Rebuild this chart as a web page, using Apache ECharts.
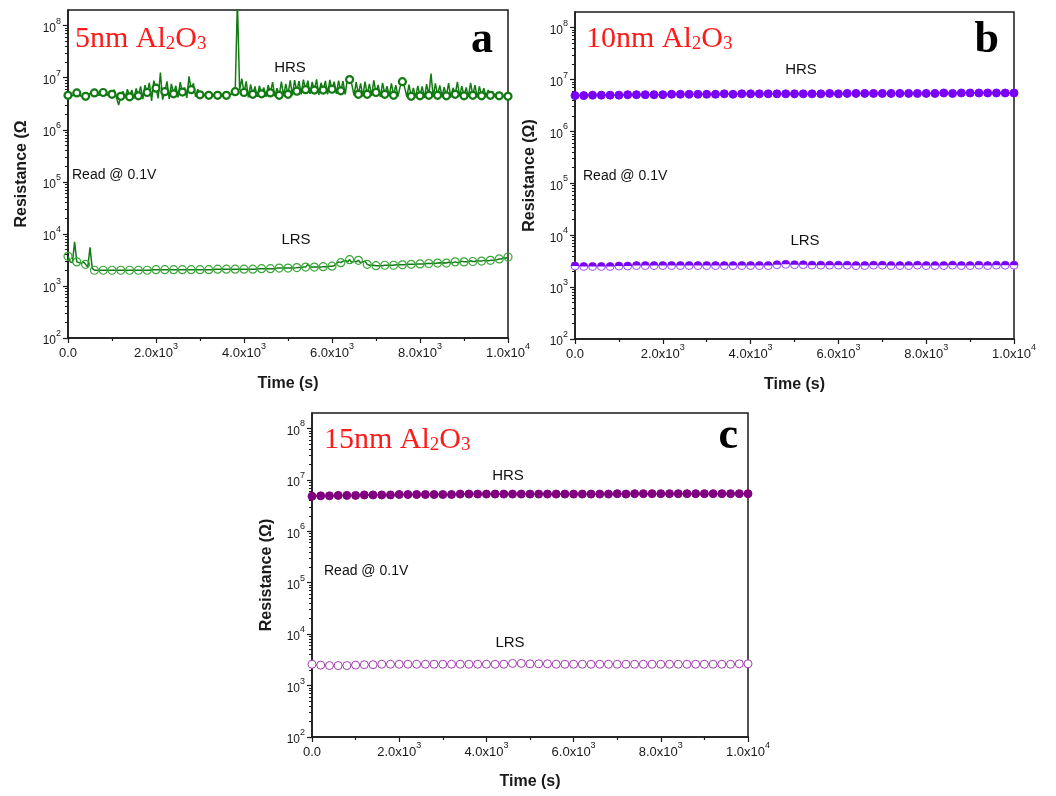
<!DOCTYPE html>
<html><head><meta charset="utf-8">
<script src="https://cdn.jsdelivr.net/npm/echarts@6/dist/echarts.min.js"></script>
<style>html,body{margin:0;padding:0;background:#fff}#c{width:1056px;height:796px}</style>
</head><body><div id="c"></div>
<script>
// ---------- data (Ω) ----------
const stepA = 50;   // s between samples, panel a
const hrsA = [
4.6e6,4.8e6,4.5e6,4.9e6,5.1e6,4.7e6,4.4e6,4.6e6,4.4e6,4.8e6,
5.0e6,4.9e6,5.1e6,4.8e6,4.6e6,4.9e6,5.2e6,4.9e6,4.6e6,5.6e6,
4.8e6,5.9e6,4.2e6,3.0e6,4.4e6,5.5e6,4.2e6,6.0e6,4.3e6,5.8e6,
4.0e6,6.2e6,4.5e6,6.8e6,3.9e6,7.2e6,5.2e6,8.0e6,3.6e6,8.8e6,
6.3e6,4.0e6,12.6e6,3.8e6,5.4e6,8.5e6,3.9e6,7.6e6,4.9e6,7.0e6,
4.2e6,8.2e6,5.3e6,6.5e6,4.1e6,10.6e6,5.9e6,7.8e6,4.3e6,6.0e6,
4.7e6,4.8e6,4.6e6,4.7e6,4.6e6,4.8e6,4.5e6,4.7e6,4.6e6,4.7e6,
4.8e6,4.6e6,4.6e6,5.0e6,4.7e6,5.3e6,5.4e6,3.0e8,5.8e6,9.6e6,
5.2e6,8.5e6,4.2e6,7.4e6,4.8e6,6.8e6,4.3e6,7.0e6,4.9e6,6.5e6,
4.3e6,7.2e6,5.1e6,8.2e6,4.4e6,6.3e6,4.6e6,8.4e6,4.5e6,7.6e6,
4.8e6,8.9e6,4.6e6,9.0e6,5.5e6,8.6e6,4.8e6,9.2e6,5.9e6,8.8e6,
4.9e6,8.3e6,5.8e6,9.3e6,4.7e6,8.0e6,5.8e6,8.7e6,4.8e6,9.1e6,
6.0e6,8.4e6,4.9e6,8.8e6,5.6e6,8.6e6,4.8e6,9.5e6,9.2e6,7.5e6,
4.6e6,8.2e6,4.8e6,7.8e6,4.4e6,8.4e6,4.8e6,7.6e6,4.5e6,8.9e6,
5.2e6,7.3e6,4.3e6,8.0e6,4.8e6,6.9e6,4.5e6,7.8e6,4.6e6,7.2e6,
4.4e6,6.8e6,8.4e6,6.6e6,4.3e6,7.4e6,4.4e6,6.4e6,4.2e6,7.0e6,
4.5e6,6.8e6,4.1e6,7.5e6,4.6e6,12.0e6,4.3e6,7.8e6,4.6e6,7.1e6,
4.4e6,6.6e6,4.5e6,7.9e6,4.2e6,6.4e6,4.8e6,8.3e6,4.4e6,6.9e6,
4.5e6,6.5e6,4.3e6,8.0e6,4.6e6,7.2e6,4.2e6,6.8e6,4.5e6,6.3e6,
4.4e6,5.8e6,4.6e6,5.4e6,4.4e6,5.0e6,4.5e6,4.7e6,4.4e6,4.5e6,
4.4e6];
const lrsA = [
3.7e3,2.9e3,2.8e3,7.0e3,2.9e3,2.8e3,2.7e3,2.9e3,2.6e3,2.3e3,
5.5e3,2.2e3,2.0e3,2.0e3,2.0e3,2.0e3,2.0e3,2.0e3,2.0e3,2.0e3,
2.0e3,2.0e3,2.0e3,2.0e3,2.0e3,2.0e3,2.0e3,2.0e3,2.0e3,2.0e3,
2.0e3,2.0e3,2.0e3,2.0e3,2.0e3,2.0e3,2.0e3,2.0e3,2.05e3,2.05e3,
2.05e3,2.05e3,2.05e3,2.05e3,2.05e3,2.05e3,2.05e3,2.05e3,2.05e3,2.05e3,
2.05e3,2.05e3,2.05e3,2.05e3,2.05e3,2.05e3,2.05e3,2.05e3,2.05e3,2.05e3,
2.05e3,2.05e3,2.05e3,2.05e3,2.05e3,2.05e3,2.05e3,2.1e3,2.1e3,2.1e3,
2.1e3,2.1e3,2.1e3,2.1e3,2.1e3,2.1e3,2.1e3,2.1e3,2.1e3,2.1e3,
2.1e3,2.1e3,2.1e3,2.1e3,2.1e3,2.1e3,2.15e3,2.15e3,2.15e3,2.15e3,
2.15e3,2.15e3,2.15e3,2.15e3,2.15e3,2.2e3,2.2e3,2.2e3,2.2e3,2.2e3,
2.2e3,2.2e3,2.2e3,2.2e3,2.25e3,2.25e3,2.25e3,2.3e3,2.3e3,2.6e3,
2.35e3,2.3e3,2.3e3,2.3e3,2.3e3,2.3e3,2.35e3,2.35e3,2.35e3,2.4e3,
2.4e3,2.45e3,2.7e3,2.9e3,2.8e3,3.0e3,3.1e3,2.9e3,3.2e3,2.8e3,
3.0e3,2.9e3,3.1e3,2.8e3,2.9e3,3.0e3,2.6e3,2.5e3,2.5e3,2.5e3,
2.45e3,2.45e3,2.45e3,2.45e3,2.5e3,2.5e3,2.5e3,2.5e3,2.5e3,2.55e3,
2.55e3,2.55e3,2.55e3,2.55e3,2.6e3,2.6e3,2.6e3,2.6e3,2.6e3,2.65e3,
2.65e3,2.65e3,2.65e3,2.7e3,2.7e3,2.7e3,2.75e3,2.7e3,2.75e3,2.8e3,
2.75e3,2.8e3,2.75e3,2.85e3,2.8e3,2.8e3,2.9e3,2.8e3,2.85e3,3.0e3,
2.9e3,2.9e3,2.9e3,3.05e3,2.95e3,2.95e3,3.1e3,3.0e3,3.0e3,3.1e3,
3.05e3,3.05e3,3.1e3,3.1e3,3.15e3,3.2e3,3.3e3,3.3e3,3.5e3,3.4e3,
3.6e3];

const stepBC = 200; // s between samples, panels b and c
const hrsB = [
4.9e6,4.9e6,5.0e6,5.0e6,5.0e6,5.0e6,5.1e6,5.1e6,5.1e6,5.1e6,
5.1e6,5.2e6,5.2e6,5.2e6,5.2e6,5.2e6,5.2e6,5.3e6,5.2e6,5.3e6,
5.3e6,5.3e6,5.3e6,5.3e6,5.3e6,5.3e6,5.3e6,5.3e6,5.3e6,5.4e6,
5.3e6,5.4e6,5.4e6,5.4e6,5.4e6,5.4e6,5.4e6,5.4e6,5.4e6,5.4e6,
5.4e6,5.4e6,5.5e6,5.4e6,5.5e6,5.5e6,5.5e6,5.5e6,5.5e6,5.5e6,
5.5e6];
const lrsB = [
2.55e3,2.5e3,2.5e3,2.5e3,2.5e3,2.55e3,2.55e3,2.6e3,2.6e3,2.6e3,
2.6e3,2.6e3,2.6e3,2.6e3,2.6e3,2.6e3,2.6e3,2.6e3,2.6e3,2.6e3,
2.6e3,2.6e3,2.6e3,2.7e3,2.75e3,2.7e3,2.7e3,2.65e3,2.65e3,2.65e3,
2.65e3,2.65e3,2.6e3,2.6e3,2.65e3,2.65e3,2.6e3,2.6e3,2.6e3,2.65e3,
2.6e3,2.6e3,2.6e3,2.65e3,2.6e3,2.6e3,2.65e3,2.6e3,2.65e3,2.65e3,
2.65e3];
const hrsC = [
4.8e6,4.9e6,4.9e6,5.0e6,5.0e6,5.0e6,5.1e6,5.1e6,5.1e6,5.1e6,
5.2e6,5.2e6,5.2e6,5.2e6,5.2e6,5.2e6,5.2e6,5.3e6,5.3e6,5.3e6,
5.3e6,5.3e6,5.3e6,5.3e6,5.3e6,5.3e6,5.3e6,5.3e6,5.3e6,5.3e6,
5.3e6,5.3e6,5.3e6,5.3e6,5.3e6,5.4e6,5.3e6,5.4e6,5.4e6,5.4e6,
5.4e6,5.4e6,5.4e6,5.4e6,5.4e6,5.4e6,5.4e6,5.4e6,5.4e6,5.4e6,
5.4e6];
const lrsC = [
2.6e3,2.5e3,2.45e3,2.45e3,2.45e3,2.5e3,2.55e3,2.55e3,2.6e3,2.6e3,
2.6e3,2.6e3,2.6e3,2.6e3,2.6e3,2.6e3,2.6e3,2.6e3,2.6e3,2.6e3,
2.6e3,2.6e3,2.6e3,2.7e3,2.7e3,2.65e3,2.65e3,2.65e3,2.6e3,2.6e3,
2.6e3,2.6e3,2.6e3,2.6e3,2.6e3,2.6e3,2.6e3,2.6e3,2.6e3,2.6e3,
2.6e3,2.6e3,2.6e3,2.6e3,2.6e3,2.6e3,2.6e3,2.6e3,2.6e3,2.65e3,
2.65e3];

const xTickValues = [0, 2000, 4000, 6000, 8000, 10000];
const xTickLabels = ['0.0', '2.0x10^3', '4.0x10^3', '6.0x10^3', '8.0x10^3', '1.0x10^4'];
const yTickValues = [1e2, 1e3, 1e4, 1e5, 1e6, 1e7, 1e8];
const yTickLabels = ['10^2', '10^3', '10^4', '10^5', '10^6', '10^7', '10^8'];
const panelTitles = ['5nm Al{s|2}O{s|3}', '10nm Al{s|2}O{s|3}', '15nm Al{s|2}O{s|3}'];
const panelLetters = ['a', 'b', 'c'];
const yNames = ['Resistance (\u03a9', 'Resistance (\u03a9)', 'Resistance (\u03a9)'];
const xName = 'Time (s)';
const noteText = 'Read @ 0.1V';

// ---------- build ----------
const SANS = 'Liberation Sans, Arial, sans-serif';
const SERIF = 'Liberation Serif, Times New Roman, serif';
const AX = '#1a1a1a';
const pairs = (step, arr) => arr.map((v, i) => [i * step, v]);
const supFmt = s => { const p = s.split('^'); return p.length > 1 ? '{b|' + p[0] + '}{sup|' + p[1] + '}' : '{b|' + s + '}'; };
const minorY = [];
for (let e = 2; e <= 7; e++) for (let k = 2; k <= 9; k++) minorY.push(k * Math.pow(10, e));

const grids = [
  {left: 68, top: 10, width: 440, height: 328},
  {left: 575, top: 12, width: 439, height: 327},
  {left: 312, top: 413, width: 436, height: 324}
];
const yGaps = [38, 37, 37];
const xGaps = [38, 38, 37];

const richX = {b: {fontSize: 13, fontFamily: SANS, color: AX, lineHeight: 18, verticalAlign: 'bottom'},
               sup: {fontSize: 9, fontFamily: SANS, color: AX, lineHeight: 9, verticalAlign: 'top'}};
const richY = {b: {fontSize: 12, fontFamily: SANS, color: AX, lineHeight: 18, verticalAlign: 'bottom'},
               sup: {fontSize: 9, fontFamily: SANS, color: AX, lineHeight: 9, verticalAlign: 'top'}};

const xAxes = grids.map((g, i) => ({
  type: 'value', gridIndex: i, min: 0, max: 10000, interval: 2000,
  name: xName, nameLocation: 'middle', nameGap: xGaps[i],
  nameTextStyle: {fontFamily: SANS, fontWeight: 'bold', fontSize: 16, color: AX},
  axisLine: {show: true, onZero: false, lineStyle: {color: AX, width: 1.5}},
  axisTick: {show: true, inside: false, length: 5, lineStyle: {color: AX, width: 1.2}},
  minorTick: {show: true, splitNumber: 2, length: 3, lineStyle: {color: AX, width: 1.2}},
  splitLine: {show: false},
  axisLabel: {margin: 4, rich: richX,
    formatter: v => { const k = xTickValues.indexOf(v); return k >= 0 ? supFmt(xTickLabels[k]) : ''; }}
}));

const yAxes = [];
grids.forEach((g, i) => {
  yAxes.push({
    type: 'log', logBase: 10, gridIndex: i, position: 'left', min: 100, max: 2e8,
    name: yNames[i], nameLocation: 'middle', nameGap: yGaps[i], nameRotate: 90,
    nameTextStyle: {fontFamily: SANS, fontWeight: 'bold', fontSize: 16, color: AX},
    axisLine: {show: true, lineStyle: {color: AX, width: 1.5}},
    axisTick: {show: true, inside: false, length: 5, customValues: yTickValues, lineStyle: {color: AX, width: 1.2}},
    splitLine: {show: false},
    axisLabel: {show: true, margin: 7, rich: richY, customValues: yTickValues,
      formatter: v => { const k = Math.round(Math.log10(v)) - 2; return (k >= 0 && k < yTickLabels.length) ? supFmt(yTickLabels[k]) : ''; }}
  });
  yAxes.push({
    type: 'log', logBase: 10, gridIndex: i, position: 'left', offset: 0, min: 100, max: 2e8,
    axisLine: {show: false}, splitLine: {show: false}, axisLabel: {show: false},
    axisTick: {show: true, inside: false, length: 3, customValues: minorY, lineStyle: {color: AX, width: 1}}
  });
});

const GREEN = '#127a12', GREEN_L = '#3aa83a';
const VIOLET = '#7a00f5', PURPLE = '#800080', PURPLE_L = '#a03cb0';
const every4 = (v, p) => (p.dataIndex % 4 === 0 ? 7 : 0);

const series = [
  {type: 'line', xAxisIndex: 0, yAxisIndex: 0, data: pairs(stepA, hrsA), z: 3,
   lineStyle: {color: GREEN, width: 1.5}, symbol: 'circle', symbolSize: every4,
   itemStyle: {color: '#ffffff', borderColor: GREEN, borderWidth: 2.2}},
  {type: 'line', xAxisIndex: 0, yAxisIndex: 0, data: pairs(stepA, lrsA), z: 3,
   lineStyle: {color: GREEN, width: 1.5}, symbol: 'circle', symbolSize: (v, p) => (p.dataIndex % 4 === 0 ? 8 : 0),
   itemStyle: {color: 'rgba(255,255,255,0)', borderColor: GREEN_L, borderWidth: 1.2}},
  {type: 'line', xAxisIndex: 1, yAxisIndex: 2, data: pairs(stepBC, hrsB), z: 3,
   lineStyle: {color: VIOLET, width: 1.5}, symbol: 'circle', symbolSize: 8,
   itemStyle: {color: VIOLET, borderColor: VIOLET, borderWidth: 1}},
  {type: 'line', xAxisIndex: 1, yAxisIndex: 2, data: pairs(stepBC, lrsB), z: 3,
   lineStyle: {color: VIOLET, width: 1.5}, symbol: 'circle', symbolSize: 8,
   itemStyle: {color: '#ffffff', borderColor: '#9a4cff', borderWidth: 1}},
  {type: 'line', xAxisIndex: 1, yAxisIndex: 2, data: pairs(stepBC, lrsB), z: 4, silent: true,
   lineStyle: {width: 0, opacity: 0}, symbol: 'path://M0,10 A10,10 0 0 1 20,10 Z', symbolSize: [8, 4], symbolOffset: [0, -2],
   itemStyle: {color: VIOLET, borderWidth: 0}},
  {type: 'line', xAxisIndex: 2, yAxisIndex: 4, data: pairs(stepBC, hrsC), z: 3,
   lineStyle: {color: PURPLE, width: 1.5}, symbol: 'circle', symbolSize: 8,
   itemStyle: {color: PURPLE, borderColor: PURPLE, borderWidth: 1}},
  {type: 'line', xAxisIndex: 2, yAxisIndex: 4, data: pairs(stepBC, lrsC), z: 3,
   lineStyle: {color: PURPLE, width: 1}, symbol: 'circle', symbolSize: 8,
   itemStyle: {color: '#ffffff', borderColor: PURPLE_L, borderWidth: 1}}
];

const txt = (x, y, text, extra) => ({type: 'text', x: x, y: y, z: 100,
  style: Object.assign({text: text, fill: '#111', fontFamily: SANS, fontSize: 15, align: 'center', verticalAlign: 'middle'}, extra || {})});
const titleStyle = {fill: '#ff1a1a', fontFamily: SERIF, fontSize: 30, align: 'left', verticalAlign: 'middle',
  rich: {s: {fontSize: 19, fontFamily: SERIF, fill: '#ff1a1a', verticalAlign: 'bottom', lineHeight: 30}}};
const letterStyle = {fill: '#000', fontFamily: SERIF, fontWeight: 'bold', fontSize: 44, align: 'right', verticalAlign: 'middle'};

const graphic = [
  txt(75, 39, panelTitles[0], titleStyle),
  txt(586, 39, panelTitles[1], titleStyle),
  txt(324, 440, panelTitles[2], titleStyle),
  txt(493, 41, panelLetters[0], letterStyle),
  txt(999, 41, panelLetters[1], letterStyle),
  txt(738, 437, panelLetters[2], letterStyle),
  txt(290, 68, 'HRS'), txt(296, 240, 'LRS'),
  txt(801, 70, 'HRS'), txt(805, 241, 'LRS'),
  txt(508, 476, 'HRS'), txt(510, 643, 'LRS'),
  txt(72, 175, noteText, {align: 'left', fontSize: 14}),
  txt(583, 176, noteText, {align: 'left', fontSize: 14}),
  txt(324, 571, noteText, {align: 'left', fontSize: 14})
];

const chart = echarts.init(document.getElementById('c'), null, {renderer: 'canvas'});
chart.setOption({
  animation: false,
  backgroundColor: '#ffffff',
  grid: grids.map(g => Object.assign({show: true, borderColor: AX, borderWidth: 1.5, backgroundColor: 'transparent', containLabel: false}, g)),
  xAxis: xAxes,
  yAxis: yAxes,
  series: series,
  graphic: graphic
});
</script>
</body></html>
